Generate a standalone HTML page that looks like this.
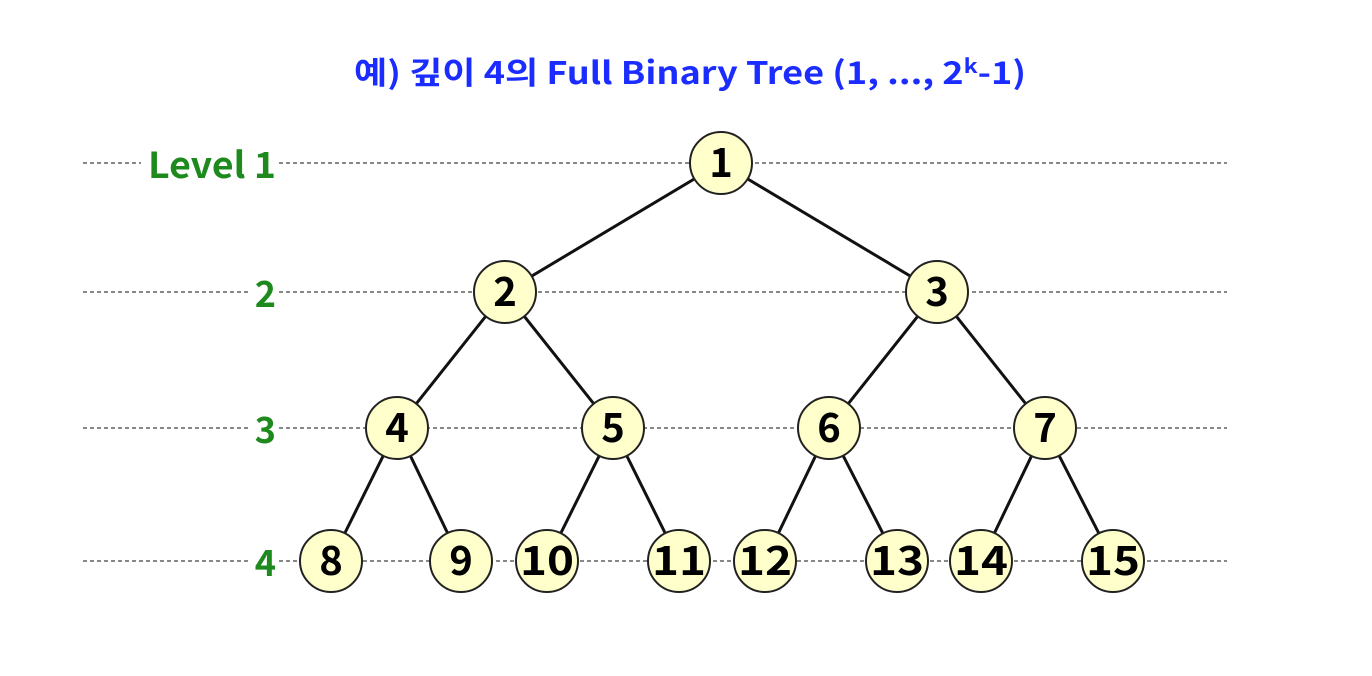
<!DOCTYPE html>
<html><head><meta charset="utf-8"><style>
html,body{margin:0;padding:0;background:#fff;}
svg{display:block;}
</style></head><body>
<svg width="1372" height="676" viewBox="0 0 1372 676" font-family="'Noto Sans CJK KR','Liberation Sans',sans-serif">
<text x="690" y="84" text-anchor="middle" font-size="31" font-weight="bold" fill="#1a2cff" textLength="672" lengthAdjust="spacingAndGlyphs">예) 깊이 4의 Full Binary Tree (1, ..., 2<tspan font-size="20" dy="-11">k</tspan><tspan dy="11">-1)</tspan></text>
<g id="levels"></g>
<g id="edges"></g>
<g id="nodes"></g>
</svg>
<script>
const levelYs=[163,292,428,561];
const levelLabels=["Level 1","2","3","4"];
const nodeLabels=["1","2","3","4","5","6","7","8","9","10","11","12","13","14","15"];
const nodeXs=[721,505,937,397,613,829,1045,331,461,547,679,765,897,981,1113];
const NS="http://www.w3.org/2000/svg";
function mk(t,a,p){const e=document.createElementNS(NS,t);for(const k in a)e.setAttribute(k,a[k]);p.appendChild(e);return e;}
const gl=document.getElementById('levels'),ge=document.getElementById('edges'),gn=document.getElementById('nodes');
levelYs.forEach((y,i)=>{
  const l=mk('line',{x1:83,x2:1227,y1:y,y2:y,stroke:'#111','stroke-width':1,'stroke-dasharray':'4 3'},gl);
  
  
  const w=i===0?130:22;
  const bg=mk('rect',{x:277-w-6,y:y-20,width:w+8,height:40,fill:'#fff'},gl);
  
  
  const t=mk('text',{x:276,y:y+15,'text-anchor':'end','font-size':36,'font-weight':'bold',fill:'#1e8a1e'},gl);
  if(i===0){t.setAttribute('textLength','128');t.setAttribute('lengthAdjust','spacingAndGlyphs');}
  t.textContent=levelLabels[i];
  
  
});
function lvl(i){return Math.floor(Math.log2(i+1));}
for(let i=1;i<nodeLabels.length;i++){
  const p=Math.floor((i-1)/2);
  const e=mk('line',{x1:nodeXs[p],y1:levelYs[lvl(p)],x2:nodeXs[i],y2:levelYs[lvl(i)],stroke:'#111','stroke-width':3},ge);
  
  
}
nodeLabels.forEach((lab,i)=>{
  const x=nodeXs[i],y=levelYs[lvl(i)];
  const c=mk('circle',{cx:x,cy:y,r:31,fill:'#ffffcc',stroke:'#222','stroke-width':2},gn);
  
  
  const t=mk('text',{x:x,y:y+14,'text-anchor':'middle','font-size':40,'font-weight':'bold',fill:'#000'},gn);
  if(lab.length>1){t.setAttribute('textLength','54');t.setAttribute('lengthAdjust','spacingAndGlyphs');}
  t.textContent=lab;
  
  
});
</script>
</body></html>
